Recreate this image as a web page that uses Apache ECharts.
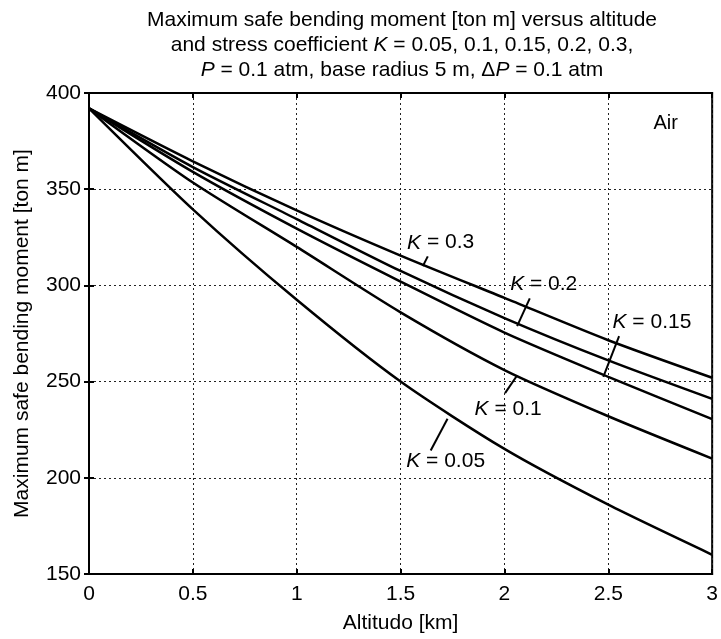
<!DOCTYPE html>
<html>
<head>
<meta charset="utf-8">
<script src="https://cdn.jsdelivr.net/npm/echarts@6/dist/echarts.min.js"></script>
<style>
  html, body { margin: 0; padding: 0; background: #fff; }
  #main { width: 721px; height: 639px; }
</style>
</head>
<body>
<div id="main"></div>
<script>
// altitude [km] and moment [ton m]
const altitude = [0, 0.5, 1, 1.5, 2, 2.5, 3];
const momentK03  = [392, 364.5, 339, 315.5, 293.5, 271.5, 252];
const momentK02  = [392, 361.5, 334.5, 307.5, 283, 261, 241];
const momentK015 = [392, 359, 329.5, 302, 275.5, 252.5, 230.5];
const momentK01  = [392, 353.5, 320, 286, 256, 232, 210];
const momentK005 = [392, 339.5, 292.5, 250, 215, 186, 160];

const xTicks = [0, 0.5, 1, 1.5, 2, 2.5, 3];
const yTicks = [150, 200, 250, 300, 350, 400];

// curve labels: text, label position, leader line (data coords)
const curveLabels = ['0.3', '0.2', '0.15', '0.1', '0.05'];
const labelPos = [[1.693, 322.2], [2.189, 300.5], [2.71, 280.9], [2.018, 235.9], [1.717, 208.5]];
const leaderFrom = [[1.631, 315.1], [2.122, 293.3], [2.552, 273.6], [2.061, 253.2], [1.726, 230.7]];
const leaderTo = [[1.607, 310.0], [2.061, 278.8], [2.476, 252.4], [2.003, 244.0], [1.645, 214.2]];

(function () {
    let myChart = echarts.init(document.getElementById('main'));
    const font = 'Liberation Sans, Arial, sans-serif';

    function pairs(ys) {
        return altitude.map(function (x, i) { return [x, ys[i]]; });
    }
    function curve(name, ys) {
        return {
            name: name,
            type: 'line',
            data: pairs(ys),
            smooth: 0.25,
            showSymbol: false,
            symbol: 'none',
            lineStyle: { color: '#000', width: 2.5 },
            silent: true,
            z: 3
        };
    }

    let axisCommon = {
        type: 'value',
        axisLine: { show: true, lineStyle: { color: '#000', width: 2 } },
        axisTick: { show: true, inside: true, length: 5, lineStyle: { color: '#000', width: 2 } },
        splitLine: { show: true, lineStyle: { color: '#222', width: 1, type: [2, 3] } }
    };

    let option = {
        backgroundColor: '#fff',
        animation: false,
        textStyle: { fontFamily: font },
        grid: {
            left: 89, right: 6, top: 93, bottom: 62,
            show: true, borderColor: '#000', borderWidth: 2
        },
        graphic: [
            {
                type: 'text',
                x: 402, y: 8,
                style: {
                    text: 'Maximum safe bending moment [ton m] versus altitude\n' +
                          'and stress coefficient {i|K} = 0.05, 0.1, 0.15, 0.2, 0.3,\n' +
                          '{i|P} = 0.1 atm, base radius 5 m, \u0394{i|P} = 0.1 atm',
                    align: 'center',
                    fontSize: 21,
                    lineHeight: 25,
                    fontFamily: font,
                    fill: '#000',
                    rich: {
                        i: { fontStyle: 'italic', fontSize: 21, fontFamily: font, fill: '#000', lineHeight: 25 }
                    }
                }
            }
        ],
        xAxis: [
            Object.assign({}, axisCommon, {
                min: 0, max: 3, interval: 0.5,
                name: 'Altitudo [km]',
                nameLocation: 'middle',
                nameGap: 39,
                nameTextStyle: { color: '#000', fontSize: 21, fontFamily: font },
                axisLabel: {
                    color: '#000', fontSize: 21, margin: 10, fontFamily: font,
                    formatter: function (v) { return xTicks.indexOf(v) >= 0 ? String(v) : ''; }
                }
            }),
            Object.assign({}, axisCommon, {
                position: 'top', min: 0, max: 3, interval: 0.5,
                axisLabel: { show: false }, splitLine: { show: false }
            })
        ],
        yAxis: [
            Object.assign({}, axisCommon, {
                min: 150, max: 400, interval: 50,
                name: 'Maximum safe bending moment [ton m]',
                nameLocation: 'middle',
                nameGap: 56,
                nameTextStyle: { color: '#000', fontSize: 21, fontFamily: font },
                axisLabel: {
                    color: '#000', fontSize: 21, margin: 8, fontFamily: font,
                    formatter: function (v) { return yTicks.indexOf(v) >= 0 ? String(v) : ''; }
                }
            }),
            Object.assign({}, axisCommon, {
                position: 'right', min: 150, max: 400, interval: 50,
                axisLabel: { show: false }, splitLine: { show: false }
            })
        ],
        series: [
            curve('K = 0.3', momentK03),
            curve('K = 0.2', momentK02),
            curve('K = 0.15', momentK015),
            curve('K = 0.1', momentK01),
            curve('K = 0.05', momentK005),
            {
                name: 'leaders',
                type: 'lines',
                coordinateSystem: 'cartesian2d',
                silent: true,
                lineStyle: { color: '#000', width: 2, opacity: 1 },
                data: leaderFrom.map(function (p, i) { return { coords: [p, leaderTo[i]] }; }),
                z: 4
            },
            {
                name: 'labels',
                type: 'scatter',
                symbolSize: 0,
                silent: true,
                itemStyle: { opacity: 1 },
                data: labelPos.map(function (p, i) { return { value: p, name: curveLabels[i] }; }),
                label: {
                    show: true,
                    position: 'inside',
                    color: '#000',
                    fontSize: 21,
                    fontFamily: font,
                    formatter: function (p) { return '{i|K} = ' + p.name; },
                    rich: { i: { fontStyle: 'italic', fontSize: 21, fontFamily: font, color: '#000' } }
                },
                z: 5
            },
            {
                name: 'medium',
                type: 'scatter',
                symbolSize: 0,
                silent: true,
                itemStyle: { opacity: 1 },
                data: [{ value: [2.776, 384.2], name: 'Air' }],
                label: {
                    show: true, position: 'inside', color: '#000', fontSize: 20, fontFamily: font,
                    formatter: '{b}'
                },
                z: 5
            }
        ]
    };

    myChart.setOption(option);
    window.addEventListener('resize', function () {
        myChart.resize();
    });
})();
</script>
</body>
</html>
